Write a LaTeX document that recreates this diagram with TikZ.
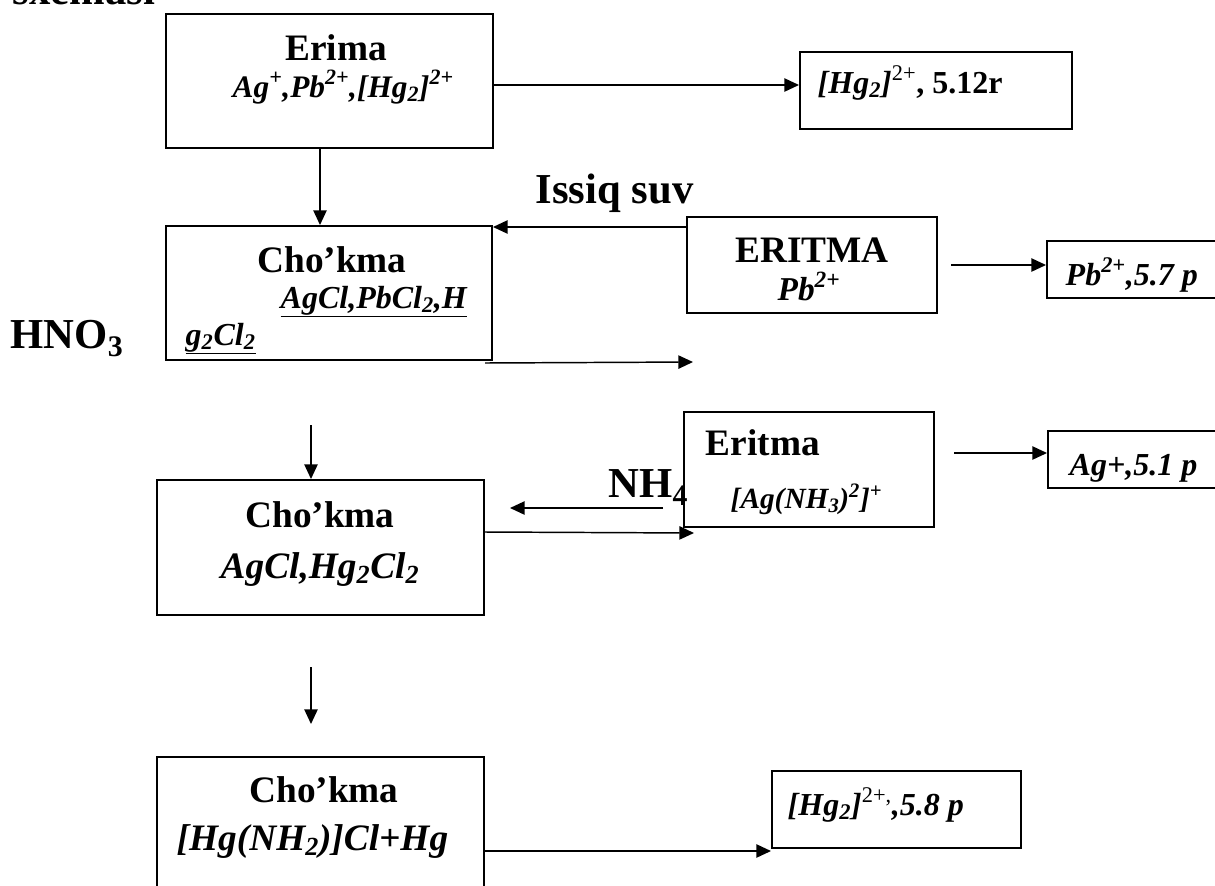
\documentclass[tikz,border=0pt]{standalone}
\usepackage{fontspec}
\setmainfont{Liberation Serif}
\usetikzlibrary{arrows.meta,calc,fit}
\newcommand\fsz[1]{\fontsize{#1}{#1}\selectfont}
\begin{document}
\begin{tikzpicture}[x=0.75pt,y=-0.75pt,>={Triangle[length=11pt,width=10pt]},line width=1.1pt]
        \tikzset{box/.style={draw, line width=1.5pt, inner sep=0pt},
          ttl/.style={inner sep=0pt, font=\fsz{28}\bfseries},
          frm/.style={inner sep=0pt, font=\fsz{24}\bfseries\itshape},
          lbl/.style={inner sep=0pt, font=\fsz{32}\bfseries}}
        \useasboundingbox (0,0) rectangle (1215,886);
        \node[box, fit={(166,14) (493,148)}] (erima) {};
        \node[box, fit={(800,52) (1072,129)}] (hgtop) {};
        \node[box, fit={(166,226) (492,360)}] (chokA) {};
        \node[box, fit={(687,217) (937,313)}] (eritA) {};
        \node[box, fit={(1047,241) (1230,298)}] (pbres) {};
        \node[box, fit={(157,480) (484,615)}] (chokB) {};
        \node[box, fit={(684,412) (934,527)}] (eritB) {};
        \node[box, fit={(1048,431) (1230,488)}] (agres) {};
        \node[box, fit={(157,757) (484,905)}] (chokC) {};
        \node[box, fit={(772,771) (1021,848)}] (hgres) {};
        \node[lbl, anchor=base west] (sx) at (12,4) {sxemasi};
        \node[ttl, anchor=base] (erimaT) at (336,60) {Erima};
        \node[frm, font=\fsz{23.5}\bfseries\itshape, anchor=base west] (erimaF) at (232,97) {Ag\textsuperscript{+},Pb\textsuperscript{2+},[Hg\textsubscript{2}]\textsuperscript{2+}};
        \node[frm, anchor=base west] (hgtopF) at (817,93) {[Hg\textsubscript{2}]\textsuperscript{\mdseries\upshape 2+}{\upshape, 5.12r}};
        \node[ttl, anchor=base] (chokAT) at (332,272) {Cho’kma};
        \node[frm, anchor=base west] (chokAF) at (280,308) {\underline{AgCl,PbCl\textsubscript{2},H}};
        \node[frm, anchor=base west] (chokAG) at (185,345) {\underline{g\textsubscript{2}Cl\textsubscript{2}}};
        \node[lbl, anchor=base west] (hno) at (10,348) {HNO\textsubscript{3}};
        \node[lbl, anchor=base west] (issiq) at (535,203) {Issiq suv};
        \node[ttl, anchor=base] (eritAT) at (812,262) {ERITMA};
        \node[frm, font=\fsz{25}\bfseries\itshape, anchor=base] (eritAF) at (809,300) {Pb\textsuperscript{2+}};
        \node[frm, anchor=base west] (pbresF) at (1065,285) {Pb\textsuperscript{2+},5.7 p};
        \node[lbl, anchor=base west] (nh) at (608,497) {NH\textsubscript{4}};
        \node[ttl, anchor=base west] (eritBT) at (705,455) {Eritma};
        \node[frm, font=\fsz{22}\bfseries\itshape, anchor=base west] (eritBF) at (730,508) {[Ag(NH\textsubscript{3})\textsuperscript{2}]\textsuperscript{+}};
        \node[frm, anchor=base west] (agresF) at (1069,475) {Ag+,5.1 p};
        \node[ttl, anchor=base] (chokBT) at (320,527) {Cho’kma};
        \node[frm, font=\fsz{28}\bfseries\itshape, anchor=base] (chokBF) at (320,578) {AgCl,Hg\textsubscript{2}Cl\textsubscript{2}};
        \node[ttl, anchor=base] (chokCT) at (324,802) {Cho’kma};
        \node[frm, font=\fsz{28}\bfseries\itshape, anchor=base west] (chokCF) at (176,850) {[Hg(NH\textsubscript{2})]Cl+Hg};
        \node[frm, anchor=base west] (hgresF) at (787,815) {[Hg\textsubscript{2}]\textsuperscript{\mdseries\upshape 2+,},5.8 p};
        \coordinate (pbout) at (693,362);
        \coordinate (pbin) at (951,265);
        \coordinate (agin) at (954,453);
        \coordinate (dnB) at (311,425);
        \coordinate (nhA) at (663,508);
        \coordinate (nhB) at (510,508);
        \coordinate (dnC) at (311,667);
        \coordinate (dnCe) at (311,724);
        \draw[->] (erima.east |- 0,85) -- (hgtop.west |- 0,85);
        \draw[->] (erima.south -| 320,0) -- (chokA.north -| 320,0);
        \draw[->] (eritA.west |- 0,227) -- (chokA.east |- 0,227);
        \draw[->] ($(chokA.south east)+(-8,2)$) -- (pbout);
        \draw[->] (pbin) -- (pbres.west |- pbin);
        \draw[->] (dnB) -- (chokB.north -| dnB);
        \draw[->] (nhA) -- (nhB);
        \draw[->] (chokB.east |- 0,532) -- ($(eritB.south west)+(11,5)$);
        \draw[->] (agin) -- (agres.west |- agin);
        \draw[->] (dnC) -- (dnCe);
        \draw[->] (chokC.east |- 0,851) -- (hgres.west |- 0,851);
    \end{tikzpicture}
\end{document}
